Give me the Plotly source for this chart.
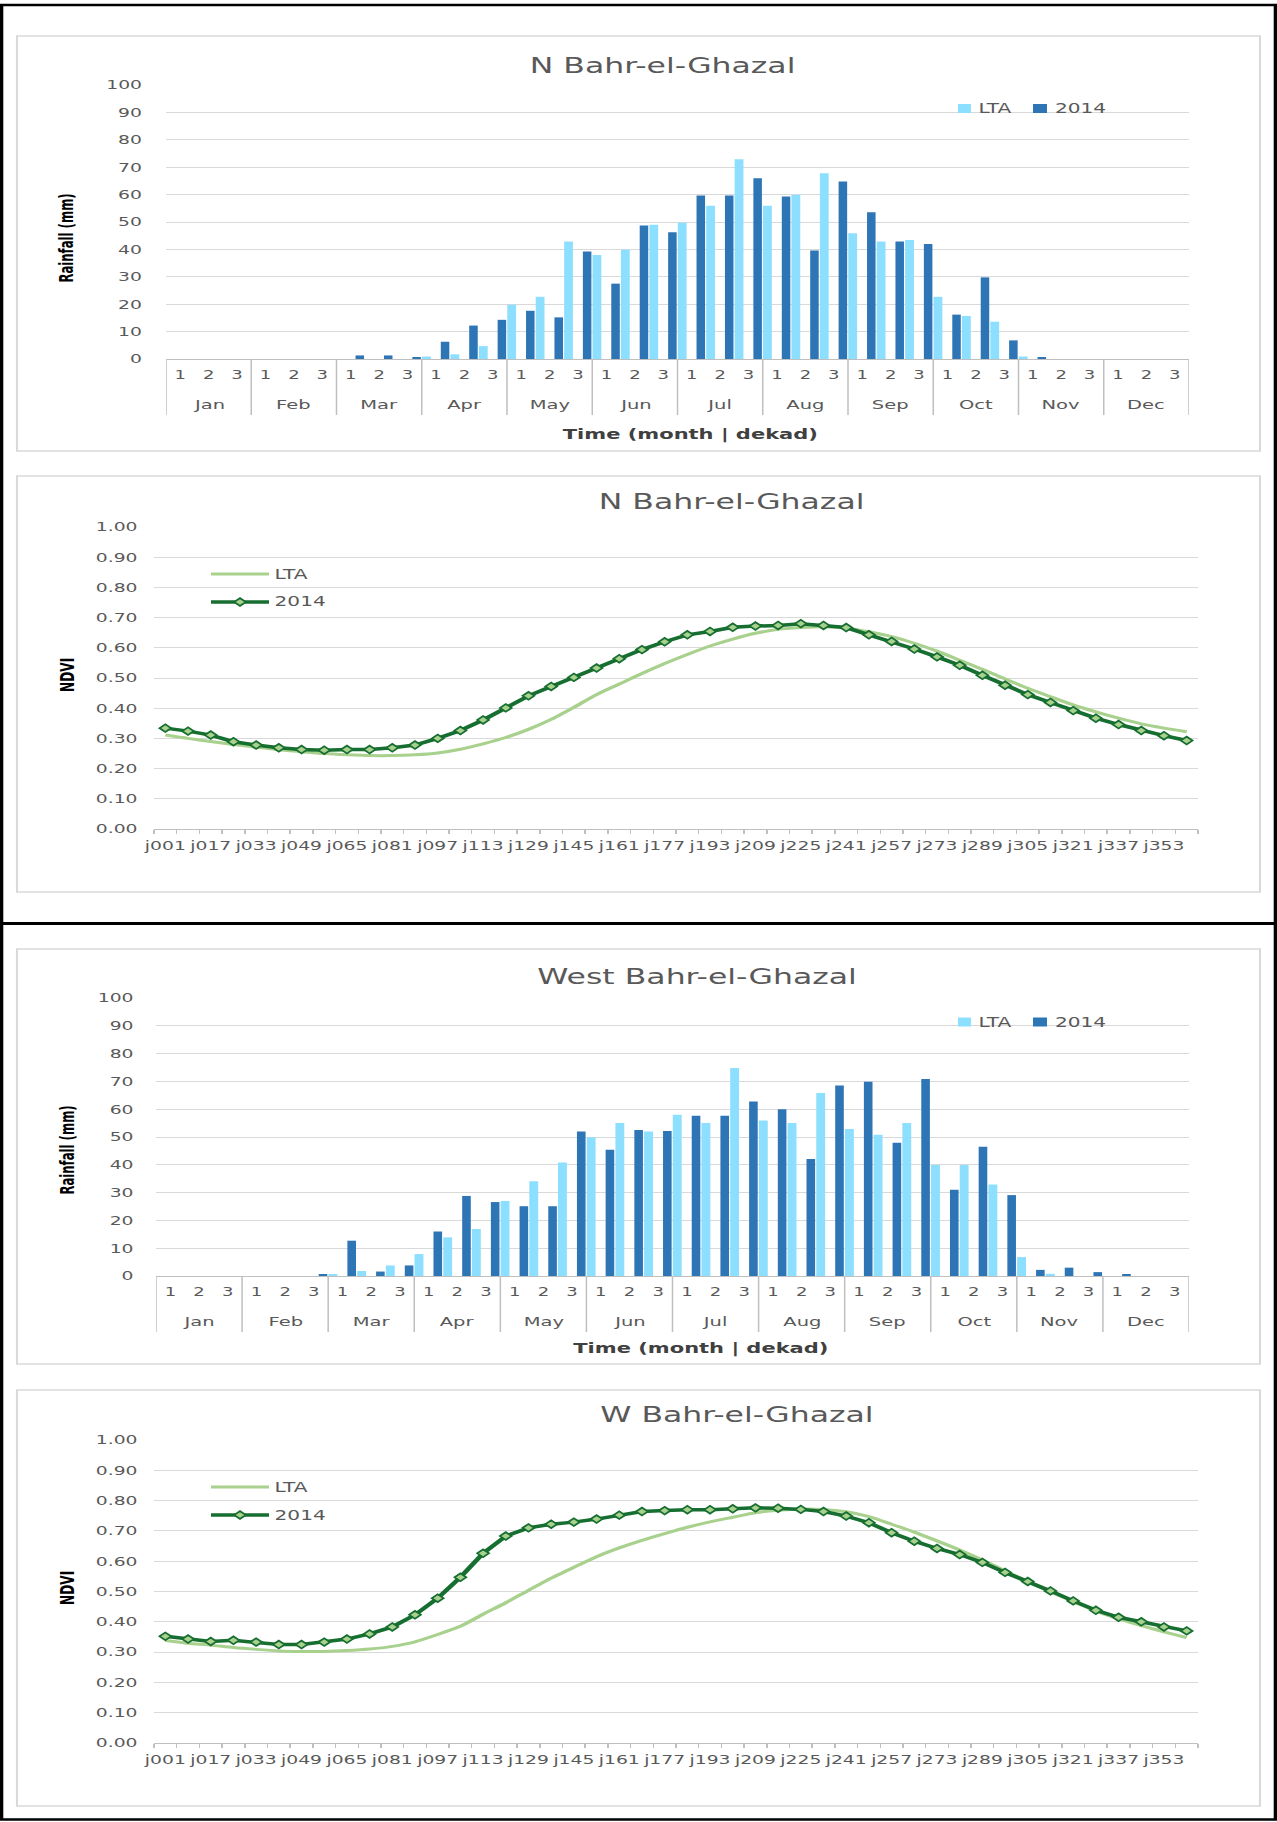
import plotly.graph_objects as go

# ---------------------------------------------------------------- data
MONTHS = ["Jan", "Feb", "Mar", "Apr", "May", "Jun",
          "Jul", "Aug", "Sep", "Oct", "Nov", "Dec"]
DEKADS = ["1", "2", "3"]

# dekadal rainfall (mm), Jan-1 ... Dec-3
RAIN_N_LTA = [0, 0, 0, 0, 0, 0, 0, 0, 0.9, 1.7, 4.7, 19.8,
              22.7, 42.9, 38.0, 39.9, 49.0, 49.7, 55.9, 72.9, 55.9, 59.9, 67.8, 45.9,
              42.9, 43.4, 22.7, 15.7, 13.6, 0.9, 0, 0, 0, 0, 0, 0]
RAIN_N_2014 = [0, 0, 0, 0, 0, 0, 1.3, 1.3, 0.5, 6.3, 12.2, 14.3,
               17.6, 15.2, 39.2, 27.5, 48.7, 46.3, 59.7, 59.7, 66.0, 59.3, 39.6, 64.8,
               53.6, 42.9, 42.0, 16.2, 29.8, 6.8, 0.5, 0, 0, 0, 0, 0]
RAIN_W_LTA = [0, 0, 0, 0, 0, 0.7, 1.8, 3.8, 7.9, 13.9, 16.9, 27.0,
              34.1, 40.8, 49.9, 55.0, 52.0, 58.0, 55.0, 74.8, 55.9, 55.0, 65.8, 52.9,
              50.8, 55.0, 39.9, 39.9, 32.9, 6.8, 0.8, 0, 0, 0, 0, 0]
RAIN_W_2014 = [0, 0, 0, 0, 0, 0.6, 12.7, 1.6, 3.8, 16.0, 28.8, 26.6,
               25.1, 25.1, 52.0, 45.4, 52.5, 52.2, 57.6, 57.6, 62.8, 60.0, 42.1, 68.5,
               69.9, 47.9, 70.9, 31.0, 46.5, 29.1, 2.2, 3.0, 1.4, 0.4, 0, 0]

# 8-day NDVI composites
NDVI_DAYS = ["j001", "j009", "j017", "j025", "j033", "j041", "j049", "j057",
             "j065", "j073", "j081", "j089", "j097", "j105", "j113", "j121",
             "j129", "j137", "j145", "j153", "j161", "j169", "j177", "j185",
             "j193", "j201", "j209", "j217", "j225", "j233", "j241", "j249",
             "j257", "j265", "j273", "j281", "j289", "j297", "j305", "j313",
             "j321", "j329", "j337", "j345", "j353", "j361"]
NDVI_N_LTA = [0.311, 0.300, 0.290, 0.280, 0.271, 0.262, 0.256, 0.250, 0.246, 0.243,
              0.243, 0.246, 0.252, 0.264, 0.282, 0.303, 0.330, 0.363, 0.403, 0.445,
              0.480, 0.515, 0.548, 0.578, 0.606, 0.629, 0.648, 0.661, 0.667, 0.670,
              0.665, 0.653, 0.637, 0.615, 0.589, 0.559, 0.529, 0.497, 0.466, 0.438,
              0.411, 0.388, 0.367, 0.348, 0.334, 0.322]
NDVI_N_2014 = [0.334, 0.324, 0.311, 0.289, 0.278, 0.269, 0.263, 0.261, 0.263, 0.263,
               0.269, 0.278, 0.300, 0.326, 0.361, 0.401, 0.441, 0.472, 0.502, 0.533,
               0.564, 0.594, 0.620, 0.643, 0.654, 0.668, 0.672, 0.674, 0.680, 0.674,
               0.667, 0.643, 0.621, 0.596, 0.570, 0.542, 0.509, 0.476, 0.445, 0.419,
               0.392, 0.367, 0.346, 0.326, 0.309, 0.293]
NDVI_W_LTA = [0.338, 0.329, 0.323, 0.315, 0.309, 0.304, 0.302, 0.302, 0.305, 0.310,
              0.319, 0.334, 0.358, 0.385, 0.425, 0.463, 0.504, 0.544, 0.580, 0.615,
              0.644, 0.669, 0.691, 0.712, 0.730, 0.745, 0.760, 0.768, 0.772, 0.771,
              0.763, 0.747, 0.722, 0.696, 0.667, 0.637, 0.604, 0.568, 0.533, 0.499,
              0.467, 0.436, 0.410, 0.387, 0.367, 0.348]
NDVI_W_2014 = [0.352, 0.343, 0.335, 0.339, 0.333, 0.325, 0.325, 0.333, 0.343, 0.360,
               0.383, 0.423, 0.478, 0.547, 0.626, 0.683, 0.710, 0.722, 0.729, 0.739,
               0.752, 0.764, 0.767, 0.770, 0.770, 0.773, 0.776, 0.775, 0.771, 0.764,
               0.749, 0.727, 0.694, 0.666, 0.642, 0.622, 0.596, 0.563, 0.533, 0.502,
               0.469, 0.438, 0.415, 0.400, 0.383, 0.370]

# ---------------------------------------------------------------- styling
PAGE_W, PAGE_H = 1277, 1822          # displayed page size
FIG_W = 851                          # layout width before horizontal stretch
STRETCH = PAGE_W / FIG_W

LTA_BLUE = "#8DDFFF"
Y2014_BLUE = "#2E75B6"
LTA_GREEN = "#A9D18E"
DARK_GREEN = "#166E30"
GRID = "#D9D9D9"
AXIS = "#BFBFBF"
TXT = "#595959"
FONT = "DejaVu Sans"
NARROW = "Liberation Sans Narrow, DejaVu Sans Condensed, sans-serif"


def px(x):
    return x / PAGE_W


def py(y):
    return 1 - y / PAGE_H


dekad_text = [d for _ in MONTHS for d in DEKADS]
n_dek = len(dekad_text)
n_ndvi = len(NDVI_DAYS)

fig = go.Figure()

# rainfall bars (2014 left of LTA in each dekad)
for xa, ya, lta, cur in (("x", "y", RAIN_N_LTA, RAIN_N_2014),
                         ("x3", "y3", RAIN_W_LTA, RAIN_W_2014)):
    fig.add_trace(go.Bar(x=list(range(n_dek)), y=lta, name="LTA", offset=0.51, width=0.31,
                         marker=dict(color=LTA_BLUE, line=dict(width=0)),
                         xaxis=xa, yaxis=ya, showlegend=False))
    fig.add_trace(go.Bar(x=list(range(n_dek)), y=cur, name="2014", offset=0.17, width=0.30,
                         marker=dict(color=Y2014_BLUE, line=dict(width=0)),
                         xaxis=xa, yaxis=ya, showlegend=False))

# NDVI profiles
for xa, ya, lta, cur in (("x2", "y2", NDVI_N_LTA, NDVI_N_2014),
                         ("x4", "y4", NDVI_W_LTA, NDVI_W_2014)):
    fig.add_trace(go.Scatter(x=list(range(n_ndvi)), y=lta, name="LTA", mode="lines",
                             line=dict(color=LTA_GREEN, width=3, shape="spline", smoothing=0.6),
                             xaxis=xa, yaxis=ya, showlegend=False))
    fig.add_trace(go.Scatter(x=list(range(n_ndvi)), y=cur, name="2014", mode="lines+markers",
                             line=dict(color=DARK_GREEN, width=3.5),
                             marker=dict(symbol="diamond", size=6, color=LTA_GREEN,
                                         line=dict(color=DARK_GREEN, width=1.5)),
                             xaxis=xa, yaxis=ya, showlegend=False))

# ---------------------------------------------------------------- axes
def rain_axes(xdom, y_zero, y_top, standoff):
    xa = dict(domain=[px(xdom[0]), px(xdom[1])], range=[-0.5, n_dek - 0.5],
              tickmode="array", tickvals=list(range(n_dek)), ticktext=dekad_text,
              ticks="", showgrid=False, zeroline=False, showline=True, tickangle=0,
              linecolor=AXIS, linewidth=1, ticklabelstandoff=5, automargin=False,
              tickfont=dict(family=FONT, size=12, color=TXT), fixedrange=True)
    ya = dict(domain=[py(y_zero), py(y_top)], range=[0, 100], tickmode="linear",
              tick0=0, dtick=10, ticks="", showgrid=True, gridcolor=GRID, gridwidth=1,
              zeroline=False, showline=False, ticklabelstandoff=standoff, automargin=False,
              tickfont=dict(family=FONT, size=12.5, color=TXT), fixedrange=True)
    return xa, ya


def ndvi_axes(y_zero, y_top):
    xa = dict(domain=[px(154), px(1198)], range=[-0.5, n_ndvi - 0.5],
              tickmode="array", tickvals=list(range(0, n_ndvi, 2)),
              ticktext=NDVI_DAYS[::2], ticks="", showgrid=False, zeroline=False,
              showline=True, linecolor=AXIS, linewidth=1, ticklabelstandoff=5,
              tickangle=0, automargin=False,
              minor=dict(tick0=-0.5, dtick=1, ticks="outside", ticklen=4,
                         tickcolor=AXIS, tickwidth=1, showgrid=False),
              tickfont=dict(family=FONT, size=12.5, color=TXT), fixedrange=True)
    ya = dict(domain=[py(y_zero), py(y_top)], range=[0, 1], tickmode="linear",
              tick0=0, dtick=0.1, tickformat=".2f", ticks="", showgrid=True,
              gridcolor=GRID, gridwidth=1, zeroline=False, showline=False,
              ticklabelstandoff=10, automargin=False,
              tickfont=dict(family=FONT, size=12.5, color=TXT), fixedrange=True)
    return xa, ya


x1, y1 = rain_axes((166, 1189), 359, 85, 15)
x2, y2 = ndvi_axes(829, 527)
x3, y3 = rain_axes((156, 1189), 1276, 998, 14)
x4, y4 = ndvi_axes(1743, 1440)
x1.update(anchor="y"); y1.update(anchor="x")
x2.update(anchor="y2"); y2.update(anchor="x2")
x3.update(anchor="y3"); y3.update(anchor="x3")
x4.update(anchor="y4"); y4.update(anchor="x4")

shapes = []
annotations = []


def text(x, y, s, size, color=TXT, family=FONT, bold=False, xanchor="center", angle=0):
    annotations.append(dict(x=px(x), y=py(y), xref="paper", yref="paper", text=s,
                            showarrow=False, xanchor=xanchor, yanchor="middle",
                            textangle=angle,
                            font=dict(family=family, size=size, color=color,
                                      weight="bold" if bold else "normal")))


# black page frame and divider
shapes.append(dict(type="rect", xref="paper", yref="paper", x0=px(1.5), x1=px(1275.5),
                   y0=py(1819.5), y1=py(5), line=dict(color="black", width=2.4)))
shapes.append(dict(type="line", xref="paper", yref="paper", x0=px(1.5), x1=px(1275.5),
                   y0=py(923.5), y1=py(923.5), line=dict(color="black", width=3)))

# chart-area boxes
for top, bottom in ((36, 451), (476, 892), (949, 1364), (1390, 1806)):
    shapes.append(dict(type="rect", xref="paper", yref="paper", x0=px(17), x1=px(1260),
                       y0=py(bottom), y1=py(top), line=dict(color=GRID, width=1.4),
                       layer="below"))

# rainfall panels: month separators, month names, axis titles, legend
for xa_name, y_axis, y_sep, y_mon, y_time, x_time, title, tx, ty, y_title, y_leg in (
        ("x", 359, 415, 405, 434, 691, "N Bahr-el-Ghazal", 662, 66, 238, 108.5),
        ("x3", 1276, 1332, 1321, 1348, 701, "West Bahr-el-Ghazal", 697, 977, 1150, 1022)):
    for m in range(len(MONTHS) + 1):
        shapes.append(dict(type="line", xref=xa_name, yref="paper", x0=3 * m - 0.5,
                           x1=3 * m - 0.5, y0=py(y_axis), y1=py(y_sep),
                           line=dict(color=AXIS, width=1)))
    for m, name in enumerate(MONTHS):
        annotations.append(dict(x=3 * m + 1, y=py(y_mon), xref=xa_name, yref="paper",
                                text=name, showarrow=False, yanchor="middle",
                                font=dict(family=FONT, size=13, color=TXT)))
    text(x_time, y_time, "Time (month | dekad)", 14, color="#404040", bold=True)
    text(tx, ty, title, 21)
    text(67, y_title, "Rainfall (mm)", 13, color="black", family=NARROW, bold=True, angle=-90)
    # legend
    for x0, x1_, col, label in ((958, 971, LTA_BLUE, "LTA"), (1033, 1047, Y2014_BLUE, "2014")):
        shapes.append(dict(type="rect", xref="paper", yref="paper", x0=px(x0), x1=px(x1_),
                           y0=py(y_leg + 4.5), y1=py(y_leg - 4.5),
                           fillcolor=col, line=dict(width=0)))
        text(x1_ + 5, y_leg, label, 13.4, xanchor="left")

# NDVI panels: titles, axis titles, legend
for title, tx, ty, y_title, y_lta, y_cur in (
        ("N Bahr-el-Ghazal", 731, 502, 675, 574, 602),
        ("W Bahr-el-Ghazal", 737, 1415, 1588, 1487, 1515)):
    text(tx, ty, title, 21)
    text(66, y_title, "NDVI", 13.5, color="black", family=NARROW, bold=True, angle=-90)
    shapes.append(dict(type="line", xref="paper", yref="paper", x0=px(211), x1=px(269),
                       y0=py(y_lta), y1=py(y_lta), line=dict(color=LTA_GREEN, width=3)))
    shapes.append(dict(type="line", xref="paper", yref="paper", x0=px(211), x1=px(269),
                       y0=py(y_cur), y1=py(y_cur), line=dict(color=DARK_GREEN, width=3.5)))
    cx, cy, hw, hh = 240, y_cur, 5.85, 3.9
    path = "M {a},{b} L {c},{d} L {e},{f} L {g},{h} Z".format(
        a=px(cx - hw), b=py(cy), c=px(cx), d=py(cy - hh),
        e=px(cx + hw), f=py(cy), g=px(cx), h=py(cy + hh))
    shapes.append(dict(type="path", xref="paper", yref="paper", path=path,
                       fillcolor=LTA_GREEN, line=dict(color=DARK_GREEN, width=1.5)))
    text(272, y_lta, "LTA", 13.4, xanchor="left")
    text(272, y_cur, "2014", 13.4, xanchor="left")

fig.update_layout(
    width=FIG_W, height=PAGE_H,
    margin=dict(l=0, r=0, t=0, b=0, pad=0, autoexpand=False),
    paper_bgcolor="white", plot_bgcolor="white",
    barmode="overlay", showlegend=False, hovermode=False,
    xaxis=x1, yaxis=y1, xaxis2=x2, yaxis2=y2,
    xaxis3=x3, yaxis3=y3, xaxis4=x4, yaxis4=y4,
    shapes=shapes, annotations=annotations,
    font=dict(family=FONT, color=TXT),
)

# the page shows the figure widened horizontally to the full page width
post = """
document.body.style.margin = '0';
document.body.style.overflow = 'hidden';
var gd = document.getElementById('{plot_id}');
gd.style.transformOrigin = '0 0';
gd.style.transform = 'scaleX(%.6f)';
""" % STRETCH

fig.write_html("out.html", config={"displayModeBar": False}, post_script=post)
